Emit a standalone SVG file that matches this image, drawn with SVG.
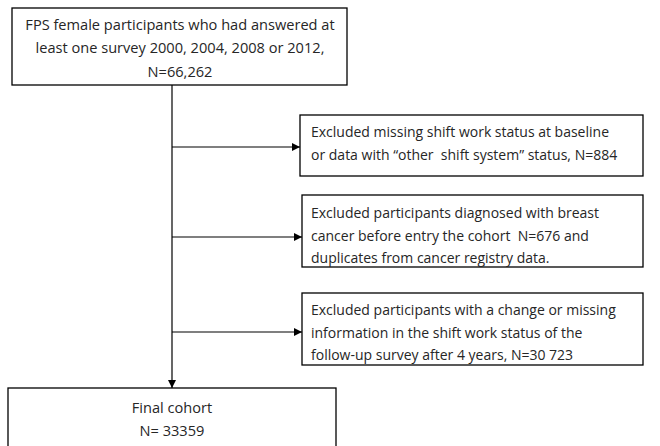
<svg xmlns="http://www.w3.org/2000/svg" width="660" height="446" viewBox="0 0 660 446">
<style>
.box{fill:#fff;stroke:#000;stroke-width:1.3}
.t{font-family:"Open Sans","Liberation Sans",sans-serif;font-size:14px;fill:#262626;white-space:pre}
.c{text-anchor:middle;font-size:14.6px}
.ln{stroke:#000;stroke-width:1.2;fill:none}
</style>
<defs>
<marker id="ah" viewBox="0 0 10 10" refX="10" refY="5" markerWidth="8" markerHeight="8" markerUnits="userSpaceOnUse" orient="auto">
<path d="M0,0 L10,5 L0,10 Z" fill="#000"/>
</marker>
</defs>
<rect width="660" height="446" fill="#fff"/>
<g id="connectors">
<line class="ln" x1="172" y1="85" x2="172" y2="388" marker-end="url(#ah)"/>
<line class="ln" x1="172" y1="147" x2="300" y2="147" marker-end="url(#ah)"/>
<line class="ln" x1="172" y1="237" x2="302" y2="237" marker-end="url(#ah)"/>
<line class="ln" x1="172" y1="332" x2="302" y2="332" marker-end="url(#ah)"/>
</g>
<g id="start">
<rect class="box" x="12" y="8" width="335" height="77"/>
<text class="t c" x="180" y="30">FPS female participants who had answered at</text>
<text class="t c" x="180" y="53">least one survey 2000, 2004, 2008 or 2012,</text>
<text class="t c" x="180" y="77">N=66,262</text>
</g>
<g id="excl1">
<rect class="box" x="300" y="115" width="343" height="61"/>
<text class="t" x="311" y="137">Excluded missing shift work status at baseline</text>
<text class="t" x="311" y="160" xml:space="preserve">or data with “other  shift system” status, N=884</text>
</g>
<g id="excl2">
<rect class="box" x="302" y="195" width="341" height="72"/>
<text class="t" x="311" y="218">Excluded participants diagnosed with breast</text>
<text class="t" x="311" y="241" xml:space="preserve">cancer before entry the cohort  N=676 and</text>
<text class="t" x="311" y="263">duplicates from cancer registry data.</text>
</g>
<g id="excl3">
<rect class="box" x="302" y="293" width="341" height="72"/>
<text class="t" x="311" y="315">Excluded participants with a change or missing</text>
<text class="t" x="311" y="338">information in the shift work status of the</text>
<text class="t" x="311" y="360">follow-up survey after 4 years, N=30 723</text>
</g>
<g id="final">
<rect class="box" x="8" y="388" width="328" height="70"/>
<text class="t c" x="172" y="413">Final cohort</text>
<text class="t c" x="172" y="436">N= 33359</text>
</g>
</svg>
